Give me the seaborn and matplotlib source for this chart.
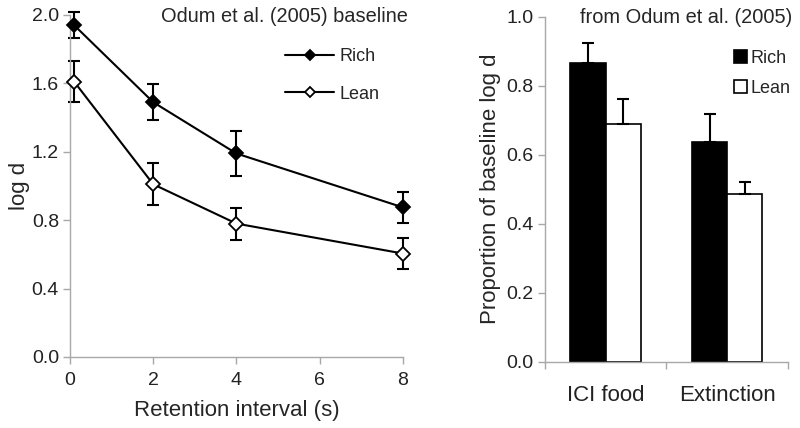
import numpy as np
import pandas as pd
import seaborn as sns
import matplotlib.pyplot as plt

# ---- data ----
retention = [0.1, 2, 4, 8]
rich_logd = [1.94, 1.49, 1.19, 0.875]
rich_err = [0.075, 0.105, 0.13, 0.09]
lean_logd = [1.61, 1.01, 0.78, 0.605]
lean_err = [0.12, 0.123, 0.094, 0.088]

conditions = ["ICI food", "Extinction"]
rich_prop = [0.865, 0.636]
rich_prop_err = [0.06, 0.081]
lean_prop = [0.688, 0.487]
lean_prop_err = [0.073, 0.033]

sns.set_style("white")
plt.rcParams["font.family"] = ["Liberation Sans", "DejaVu Sans"]
grey = "#a8a8a8"

fig = plt.figure(figsize=(8, 4.28), dpi=100)
ax1 = fig.add_axes([0.0875, 0.166, 0.416, 0.799])
ax2 = fig.add_axes([0.681, 0.155, 0.304, 0.806])

# ---- left panel: log d vs retention interval ----
df_line = pd.DataFrame({"ri": retention * 2,
                        "logd": rich_logd + lean_logd,
                        "group": ["Rich"] * 4 + ["Lean"] * 4})

for grp, fc, err in [("Rich", "black", rich_err), ("Lean", "white", lean_err)]:
    sub = df_line[df_line["group"] == grp]
    ax1.errorbar(sub["ri"], sub["logd"], yerr=err, fmt="none", ecolor="black",
                 elinewidth=1.5, capsize=4.5, capthick=1.5, zorder=2, clip_on=False)
    sns.lineplot(data=sub, x="ri", y="logd", ax=ax1, color="black", lw=1.5,
                 marker="D", markersize=7.5, markerfacecolor=fc,
                 markeredgecolor="black", markeredgewidth=1.3, label=grp,
                 zorder=3, clip_on=False)

ax1.set_xlim(0, 8)
ax1.set_ylim(0, 2.0)
ax1.set_xticks([0, 2, 4, 6, 8])
ax1.set_yticks([0, 0.4, 0.8, 1.2, 1.6, 2.0])
ax1.set_yticklabels(["0.0", "0.4", "0.8", "1.2", "1.6", "2.0"])
ax1.set_xlabel("Retention interval (s)", fontsize=16, labelpad=8)
ax1.set_ylabel("log d", fontsize=16, labelpad=1)
ax1.legend(frameon=False, loc="upper right", bbox_to_anchor=(379 / 800, 1 - 48 / 428),
           bbox_transform=fig.transFigure, borderaxespad=0, borderpad=0,
           fontsize=13, handlelength=2.75, handletextpad=0.25,
           labelspacing=1.15, markerscale=0.7)
fig.text(0.51, 0.962, "Odum et al. (2005) baseline", ha="right", va="center",
         fontsize=14.4)

# ---- right panel: proportion of baseline ----
df_bar = pd.DataFrame({"cond": conditions * 2,
                       "prop": rich_prop + lean_prop,
                       "group": ["Rich"] * 2 + ["Lean"] * 2})
sns.barplot(data=df_bar, x="cond", y="prop", hue="group", order=conditions,
            hue_order=["Rich", "Lean"], palette={"Rich": "black", "Lean": "white"},
            edgecolor="black", linewidth=1.2, width=0.58, gap=0, errorbar=None,
            ax=ax2)

for cont, errs in zip(ax2.containers, [rich_prop_err, lean_prop_err]):
    xs = [b.get_x() + b.get_width() / 2 for b in cont]
    ys = [b.get_height() for b in cont]
    ax2.errorbar(xs, ys, yerr=[np.zeros(len(errs)), errs], fmt="none",
                 ecolor="black", elinewidth=1.5, capsize=4.5, capthick=1.5,
                 zorder=1)

ax2.set_xlim(-0.5, 1.5)
ax2.set_ylim(0, 1.0)
ax2.set_yticks([0, 0.2, 0.4, 0.6, 0.8, 1.0])
ax2.set_yticklabels(["0.0", "0.2", "0.4", "0.6", "0.8", "1.0"])
ax2.set_xticks([0, 1])
ax2.set_xticklabels(conditions)
ax2.set_xticks([-0.5, 0.5, 1.5], minor=True)
ax2.set_xlabel("")
ax2.set_ylabel("Proportion of baseline log d", fontsize=16, labelpad=4)
ax2.legend(frameon=False, loc="upper right", bbox_to_anchor=(790 / 800, 1 - 50 / 428),
           bbox_transform=fig.transFigure, borderaxespad=0, borderpad=0,
           fontsize=13, handlelength=0.72, handleheight=0.72,
           handletextpad=0.18, labelspacing=0.7)
fig.text(0.725, 0.958, "from Odum et al. (2005)", ha="left", va="center",
         fontsize=14.4)

for ax in (ax1, ax2):
    for side in ("top", "right"):
        ax.spines[side].set_visible(False)
    for side in ("left", "bottom"):
        ax.spines[side].set_color(grey)
        ax.spines[side].set_linewidth(1)
    ax.tick_params(axis="both", which="major", direction="out", color=grey,
                   width=1, labelsize=14, labelcolor="#222222")
    ax.tick_params(axis="y", length=5, left=True, pad=3)
ax1.tick_params(axis="x", length=5, bottom=True, pad=6)
ax2.tick_params(axis="x", which="major", length=0, pad=17, labelsize=16)
ax2.tick_params(axis="x", which="minor", length=5, color=grey, width=1,
                bottom=True)

fig.savefig("out.png", dpi=100)
